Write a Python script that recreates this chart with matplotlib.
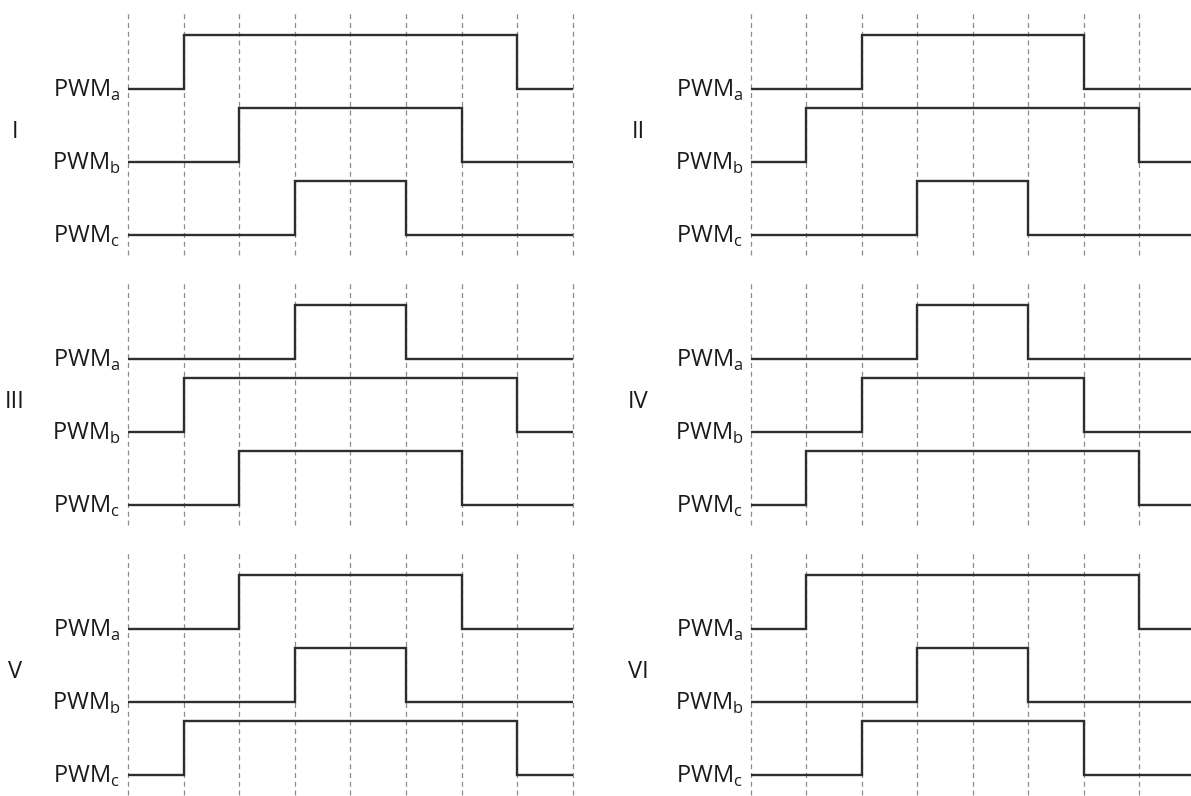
"""Six-sector PWM switching pattern diagram."""

import matplotlib

matplotlib.use("Agg")
import matplotlib.pyplot as plt
import numpy as np

plt.rcParams["font.family"] = ["Open Sans", "DejaVu Sans"]

# sector names and phase names
sectors = ["I", "II", "III", "IV", "V", "VI"]
phases = ["a", "b", "c"]
n_slots = 8

# rising / falling edge positions (in grid slots) for phases a, b, c
rise_edges = {
    "I": [1, 2, 3],
    "II": [2, 1, 3],
    "III": [3, 1, 2],
    "IV": [3, 2, 1],
    "V": [2, 3, 1],
    "VI": [1, 3, 2],
}
fall_edges = {
    "I": [7, 6, 5],
    "II": [6, 7, 5],
    "III": [5, 7, 6],
    "IV": [5, 6, 7],
    "V": [6, 5, 7],
    "VI": [7, 5, 6],
}

# layout (pixels of a 1191x796 canvas)
W, H = 1191, 796
col_left = [128, 751]
slot_px = [55.6, 55.45]
row_top = [12, 282, 552]
panel_h = 243
amp_px = 54.0
trace_offset = [2.70, 1.36, 0.0]   # baseline of a, b, c in amplitude units
ylim = (-0.37, 4.13)

trace_color = "#2e2e2e"
grid_color = "#8c8c8c"

fig = plt.figure(figsize=(W / 100, H / 100), dpi=100)

for i, name in enumerate(sectors):
    row, col = divmod(i, 2)
    left = col_left[col] / W
    width = slot_px[col] * n_slots / W
    bottom = 1 - (row_top[row] + panel_h) / H
    ax = fig.add_axes([left, bottom, width, panel_h / H])
    ax.set_xlim(0, n_slots)
    ax.set_ylim(*ylim)
    ax.axis("off")

    for k in range(n_slots + 1):
        ax.axvline(k, color=grid_color, lw=0.9, dashes=(4, 3), clip_on=False, zorder=1)

    for j, ph in enumerate(phases):
        r = rise_edges[name][j]
        f = fall_edges[name][j]
        off = trace_offset[j]
        ax.stairs(
            np.array([0, 1, 0]) + off,
            edges=[0, r, f, n_slots],
            baseline=None,
            color=trace_color,
            lw=1.7,
            clip_on=False,
            zorder=3,
        )
        ax.text(
            -0.14,
            off - 8 / amp_px,
            rf"PWM$_\mathregular{{{ph}}}$",
            ha="right",
            va="baseline",
            fontsize=17,
            color="#1a1a1a",
        )

    ax.text(
        -2.03,
        1.90,
        name,
        ha="center",
        va="center",
        fontsize=17,
        color="#1a1a1a",
    )

fig.savefig("out.png", dpi=100, facecolor="white")
plt.close(fig)
